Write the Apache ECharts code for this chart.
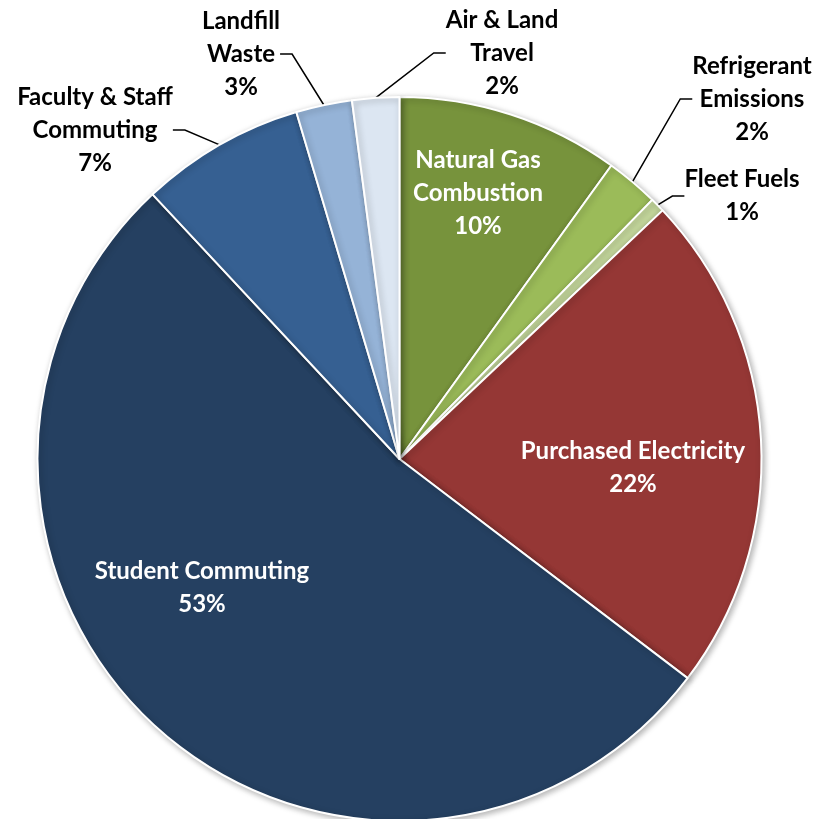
<!DOCTYPE html>
<html>
<head>
<meta charset="utf-8">
<script src="https://cdn.jsdelivr.net/npm/echarts@6/dist/echarts.min.js"></script>
<style>
  html, body { margin: 0; padding: 0; background: #fff; }
  #chart { width: 824px; height: 819px; }
</style>
</head>
<body>
<div id="chart"></div>
<script>
// 各排放来源，从正上方顺时针
const sources = ['Natural Gas\nCombustion', 'Refrigerant\nEmissions', 'Fleet Fuels', 'Purchased Electricity',
  'Student Commuting', 'Faculty & Staff\nCommuting', 'Landfill\nWaste', 'Air & Land\nTravel']
const shares = [9.95, 2.35, 0.65, 22.4, 52.7, 7.35, 2.5, 2.1]
const colors = ['#77933C', '#9BBB59', '#C3D69B', '#953735', '#254061', '#366092', '#95B3D7', '#DCE6F2']
const insideIdx = [0, 3, 4]

// 标签中心位置
const labelPos = [[478, 193], [752, 99], [742, 196], [633, 468], [202, 588], [95, 130], [241, 54], [502, 53]]

let myChart = echarts.init(document.getElementById('chart'))
let option = {
  animation: false,
  series: [
    {
      type: 'pie',
      center: [399.5, 459],
      radius: 362,
      startAngle: 90,
      clockwise: true,
      percentPrecision: 0,
      avoidLabelOverlap: false,
      itemStyle: {
        borderColor: '#fff',
        borderWidth: 2,
        shadowBlur: 6,
        shadowOffsetX: 2,
        shadowOffsetY: 2,
        shadowColor: 'rgba(0,0,0,0.3)'
      },
      label: {
        formatter: '{b}\n{d}%',
        fontFamily: 'Lato',
        fontWeight: 'bold',
        fontSize: 24,
        lineHeight: 33,
        align: 'center'
      },
      labelLine: {
        lineStyle: { color: '#000', width: 1.5 },
        length: 30,
        length2: 12
      },
      labelLayout: function(params) {
        let p = labelPos[params.dataIndex]
        return { x: p[0], y: p[1], align: 'center', verticalAlign: 'middle' }
      },
      data: sources.map(function(name, i) {
        let inside = insideIdx.indexOf(i) >= 0
        return {
          name: name,
          value: shares[i],
          itemStyle: { color: colors[i] },
          label: {
            position: inside ? 'inside' : 'outside',
            color: inside ? '#fff' : '#000'
          },
          labelLine: { show: !inside }
        }
      })
    }
  ]
}
myChart.setOption(option)
</script>
</body>
</html>
